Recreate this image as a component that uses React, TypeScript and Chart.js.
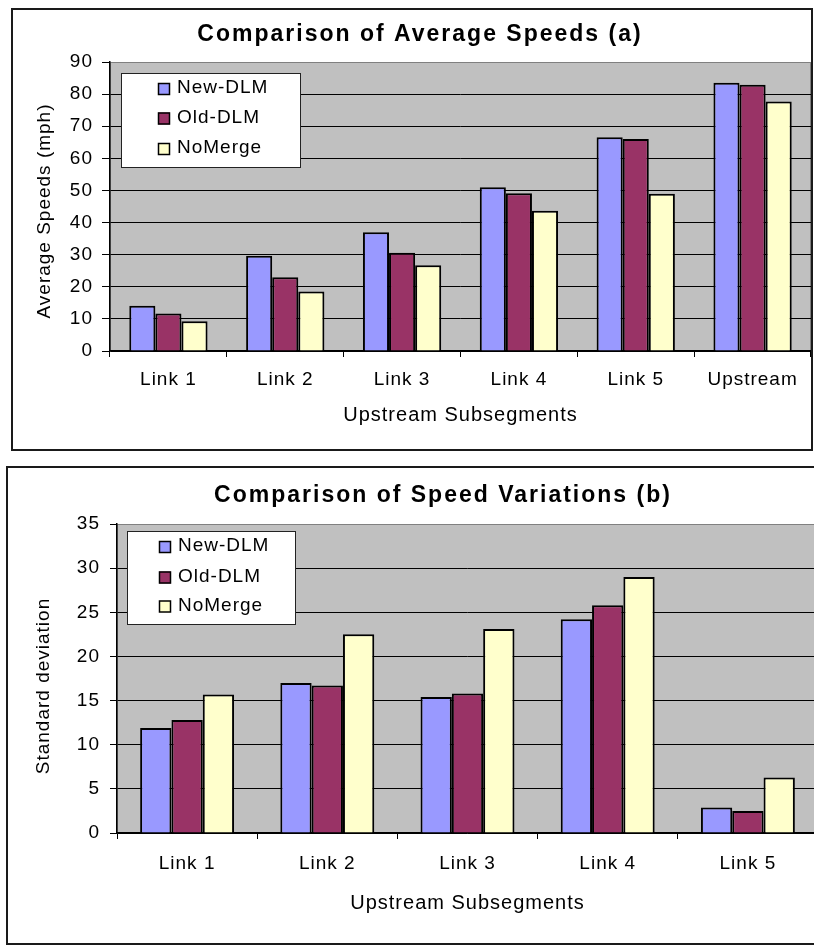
import React, { useEffect, useRef } from 'react';
import { Chart, registerables } from 'chart.js';

Chart.register(...registerables);

// ---------- data ----------
const seriesNames = ['New-DLM', 'Old-DLM', 'NoMerge'];
const seriesColors = ['#9999FF', '#993366', '#FFFFCC'];

const speedTitle = 'Comparison of Average Speeds (a)';
const speedCategories = ['Link 1', 'Link 2', 'Link 3', 'Link 4', 'Link 5', 'Upstream'];
const speedNewDLM = [14.1, 29.7, 37.0, 51.0, 66.6, 83.5];
const speedOldDLM = [11.7, 23.0, 30.6, 49.1, 66.0, 82.9];
const speedNoMerge = [9.3, 18.5, 26.7, 43.7, 49.0, 77.7];
const speedYMax = 90;
const speedYStep = 10;
const speedXTitle = 'Upstream Subsegments';
const speedYTitle = 'Average Speeds (mph)';

const varTitle = 'Comparison of Speed Variations (b)';
const varCategories = ['Link 1', 'Link 2', 'Link 3', 'Link 4', 'Link 5'];
const varNewDLM = [11.9, 17.0, 15.4, 24.2, 2.9];
const varOldDLM = [12.8, 16.7, 15.8, 25.8, 2.5];
const varNoMerge = [15.7, 22.5, 23.1, 29.0, 6.3];
const varYMax = 35;
const varYStep = 5;
const varXTitle = 'Upstream Subsegments';
const varYTitle = 'Standard deviation';

const FONT = "'Liberation Sans', Arial, Helvetica, sans-serif";

type Spec = {
  pageTop: number;
  canvasW: number;
  canvasH: number;
  box: [number, number, number, number];
  padding: { left: number; top: number; right: number; bottom: number };
  yAxisWidth: number;
  xAxisHeight: number;
  yTickLength: number;
  yTickPadding: number;
  xTickLength: number;
  xTickPadding: number;
  title: string;
  titleX: number;
  titleBaseline: number;
  xTitle: string;
  xTitleY: number;
  yTitle: string;
  yTitleX: number;
  yTitleY: number;
  legend: { x: number; y: number; w: number; h: number; squareX: number; textX: number; rows: number[] };
  categories: string[];
  series: number[][];
  yMax: number;
  yStep: number;
};

function ChartPanel({ spec }: { spec: Spec }) {
  const ref = useRef<HTMLCanvasElement | null>(null);

  useEffect(() => {
    const canvas = ref.current;
    if (!canvas) return;

    const decor = {
      id: 'decor',
      beforeDraw(chart: any) {
        const ctx = chart.ctx as CanvasRenderingContext2D;
        const { left, top, right, bottom } = chart.chartArea;
        ctx.save();
        ctx.fillStyle = '#ffffff';
        ctx.fillRect(0, 0, spec.canvasW, spec.canvasH);
        ctx.fillStyle = '#C0C0C0';
        ctx.fillRect(left, top, right - left, bottom - top);
        ctx.strokeStyle = '#808080';
        ctx.lineWidth = 1;
        ctx.strokeRect(left + 0.5, top + 0.5, right - left - 1, bottom - top - 1);
        ctx.restore();
        (ctx as any).letterSpacing = '1px';
      },
      afterDraw(chart: any) {
        const ctx = chart.ctx as CanvasRenderingContext2D;
        const { left, right } = chart.chartArea;
        ctx.save();
        // outer frame
        ctx.strokeStyle = '#1a1a1a';
        ctx.lineWidth = 2;
        const [bx, by, bw, bh] = spec.box;
        ctx.strokeRect(bx, by, bw, bh);

        // title
        (ctx as any).letterSpacing = '2px';
        ctx.fillStyle = '#000';
        ctx.font = `bold 23px ${FONT}`;
        ctx.textAlign = 'center';
        ctx.textBaseline = 'alphabetic';
        ctx.fillText(spec.title, spec.titleX, spec.titleBaseline);

        // axis titles
        (ctx as any).letterSpacing = '1px';
        ctx.font = `20px ${FONT}`;
        ctx.textBaseline = 'middle';
        ctx.fillText(spec.xTitle, (left + right) / 2, spec.xTitleY);
        ctx.save();
        ctx.font = `19px ${FONT}`;
        ctx.translate(spec.yTitleX, spec.yTitleY);
        ctx.rotate(-Math.PI / 2);
        ctx.fillText(spec.yTitle, 0, 0);
        ctx.restore();

        // legend
        const lg = spec.legend;
        ctx.fillStyle = '#ffffff';
        ctx.fillRect(lg.x, lg.y, lg.w, lg.h);
        ctx.strokeStyle = '#222';
        ctx.lineWidth = 1;
        ctx.strokeRect(lg.x + 0.5, lg.y + 0.5, lg.w, lg.h);
        ctx.font = `19px ${FONT}`;
        ctx.textAlign = 'left';
        ctx.textBaseline = 'middle';
        chart.data.datasets.forEach((ds: any, i: number) => {
          const cy = lg.y + lg.rows[i];
          ctx.fillStyle = ds.backgroundColor;
          ctx.fillRect(lg.squareX, cy - 6, 12, 12);
          ctx.strokeStyle = '#000';
          ctx.lineWidth = 1.5;
          ctx.strokeRect(lg.squareX + 0.5, cy - 5.5, 11, 11);
          ctx.fillStyle = '#000';
          ctx.fillText(ds.label, lg.textX, cy - 1);
        });
        ctx.restore();
      },
    };

    const tickFont = { family: FONT, size: 19 };

    const chart = new Chart(canvas, {
      type: 'bar',
      data: {
        labels: spec.categories,
        datasets: spec.series.map((vals, i) => ({
          label: seriesNames[i],
          data: vals,
          backgroundColor: seriesColors[i],
          borderColor: '#000000',
          borderWidth: 2,
          categoryPercentage: 0.67,
          barPercentage: 1.0,
        })),
      },
      options: {
        responsive: false,
        animation: false,
        devicePixelRatio: 1,
        layout: { padding: spec.padding },
        plugins: {
          legend: { display: false },
          title: { display: false },
          tooltip: { enabled: false },
        },
        scales: {
          x: {
            grid: {
              display: true,
              drawOnChartArea: false,
              drawTicks: true,
              tickLength: spec.xTickLength,
              color: '#000000',
              offset: true,
            },
            border: { display: true, color: '#000000', width: 1.5 },
            ticks: {
              font: tickFont,
              color: '#000000',
              padding: spec.xTickPadding,
              maxRotation: 0,
              autoSkip: false,
            },
            afterFit: (s: any) => {
              s.height = spec.xAxisHeight;
            },
          },
          y: {
            min: 0,
            max: spec.yMax,
            ticks: {
              stepSize: spec.yStep,
              font: tickFont,
              color: '#000000',
              padding: spec.yTickPadding,
            },
            grid: {
              color: (c: any) => (c.tick && c.tick.value === spec.yMax ? '#808080' : '#000000'),
              tickColor: '#000000',
              tickLength: spec.yTickLength,
              drawTicks: true,
              lineWidth: 1,
            },
            border: { display: true, color: '#000000', width: 1.5 },
            afterFit: (s: any) => {
              s.width = spec.yAxisWidth;
            },
          },
        },
      },
      plugins: [decor],
    } as any);

    return () => {
      chart.destroy();
    };
  }, [spec]);

  return (
    <canvas
      ref={ref}
      width={spec.canvasW}
      height={spec.canvasH}
      style={{
        position: 'absolute',
        left: 0,
        top: spec.pageTop,
        width: spec.canvasW,
        height: spec.canvasH,
        display: 'block',
      }}
    />
  );
}

const speedSpec: Spec = {
  pageTop: 0,
  canvasW: 814,
  canvasH: 458,
  box: [12, 9, 800, 441],
  padding: { left: 10, top: 62, right: 3, bottom: 47 },
  yAxisWidth: 100,
  xAxisHeight: 60,
  yTickLength: 8,
  yTickPadding: 9,
  xTickLength: 6,
  xTickPadding: 11,
  title: speedTitle,
  titleX: 420,
  titleBaseline: 41,
  xTitle: speedXTitle,
  xTitleY: 415,
  yTitle: speedYTitle,
  yTitleX: 45,
  yTitleY: 211,
  legend: { x: 121, y: 73, w: 179, h: 94, squareX: 158, textX: 177, rows: [16, 45.5, 76] },
  categories: speedCategories,
  series: [speedNewDLM, speedOldDLM, speedNoMerge],
  yMax: speedYMax,
  yStep: speedYStep,
};

const varSpec: Spec = {
  pageTop: 458,
  canvasW: 880,
  canvasH: 489,
  box: [7, 9, 872, 477],
  padding: { left: 17, top: 66, right: 62, bottom: 54 },
  yAxisWidth: 100,
  xAxisHeight: 60,
  yTickLength: 7,
  yTickPadding: 10,
  xTickLength: 6,
  xTickPadding: 13,
  title: varTitle,
  titleX: 443,
  titleBaseline: 43.5,
  xTitle: varXTitle,
  xTitleY: 445,
  yTitle: varYTitle,
  yTitleX: 43.5,
  yTitleY: 228,
  legend: { x: 127, y: 73, w: 168, h: 93, squareX: 159, textX: 178, rows: [16, 46.5, 75.5] },
  categories: varCategories,
  series: [varNewDLM, varOldDLM, varNoMerge],
  yMax: varYMax,
  yStep: varYStep,
};

export default function App() {
  return (
    <div
      style={{
        position: 'fixed',
        left: 0,
        top: 0,
        width: 814,
        height: 947,
        overflow: 'hidden',
        background: '#ffffff',
      }}
    >
      <ChartPanel spec={speedSpec} />
      <ChartPanel spec={varSpec} />
    </div>
  );
}
